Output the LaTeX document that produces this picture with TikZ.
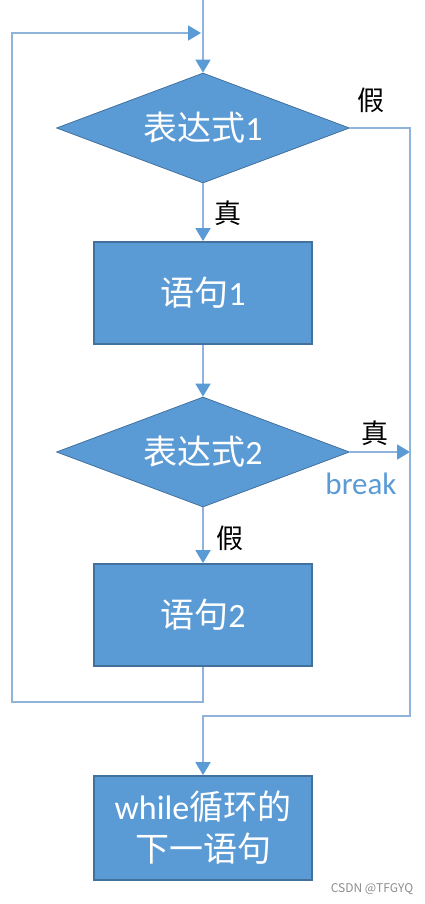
\documentclass[tikz,border=0pt]{standalone}
\usepackage{fontspec}
\setmainfont{Noto Sans CJK SC}
\newfontfamily\latinfont{Carlito}
\usetikzlibrary{arrows.meta,positioning,shapes.geometric}
\definecolor{boxblue}{HTML}{5B9BD5}
\definecolor{edgeblue}{HTML}{41719C}
\definecolor{lineblue}{HTML}{8FB3DB}

\begin{document}
\begin{tikzpicture}[x=1pt,y=-1pt,
  >={Triangle[length=13pt,width=15pt,color=boxblue]},
  blk/.style={rectangle,draw=edgeblue,line width=1.8pt,fill=boxblue,text=white,
    minimum width=218pt,minimum height=102pt,align=center,
    font=\fontsize{34}{42}\selectfont},
  cond/.style={diamond,aspect=2.66,draw=edgeblue,line width=0.8pt,fill=boxblue,text=white,
    minimum width=293pt,minimum height=110pt,inner sep=0pt,
    font=\fontsize{34}{40}\selectfont},
  flow/.style={draw=lineblue,line width=1.8pt},
  tag/.style={font=\fontsize{27}{30}\selectfont}]
  \useasboundingbox (0,0) rectangle (424,904);

  % flow chart nodes
  \node[cond] (d1) at (203,128) {表达式{\latinfont 1}};
  \node[blk]  (b1) at (203,293) {语句{\latinfont 1}};
  \node[cond] (d2) at (203,452) {表达式{\latinfont 2}};
  \node[blk]  (b2) at (203,615) {语句{\latinfont 2}};
  \node[blk,minimum height=104pt] (b3) at (203,828) {{\latinfont while}循环的\\下一语句};

  \coordinate (entry) at (203,0);
  \coordinate (loopL) at (12,702);
  \coordinate (join)  at (201,33);
  \coordinate (exitR) at (410,716);
  \coordinate (brk)   at (410,452);

  % connectors
  \draw[flow,->] (entry) -- (d1.north);
  \draw[flow,->] (d1.south) -- (b1.north);
  \draw[flow,->] (b1.south) -- (d2.north);
  \draw[flow,->] (d2.south) -- (b2.north);
  \draw[flow,->] (d2.east) -- (brk);
  \draw[flow,->] (b2.south) |- (loopL) |- (join);
  \draw[flow,->] (d1.east) -| (exitR) -| (b3.north);

  % labels
  \node[tag] (t1) at (228,213) {真};
  \node[tag] (f1) at (371,100) {假};
  \node[tag] (t2) at (375,433) {真};
  \node[tag] (f2) at (230,538) {假};
  \node[text=boxblue,font=\latinfont\fontsize{31}{34}\selectfont] (brklbl) at (361,484) {break};
  \node[text=black!45,font=\fontsize{12}{14}\selectfont] (wm) at (372,889) {CSDN @TFGYQ};
\end{tikzpicture}
\end{document}
